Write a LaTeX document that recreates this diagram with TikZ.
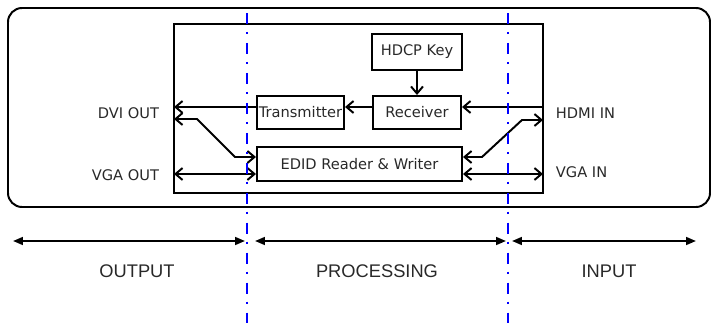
\documentclass[tikz,border=0pt]{standalone}
\usepackage{fontspec}
\setmainfont{DejaVu Sans}
\newfontfamily\arialfont{Liberation Sans}
\usepackage{tikz}
\usepackage{xcolor}
\usetikzlibrary{arrows.meta}

\definecolor{labelgray}{RGB}{40,40,40}

\tikzset{
    block/.style={draw, line width=1.4pt, inner sep=0pt, text=labelgray,
        font=\fontsize{10.4}{12}\selectfont},
    port/.style={text=labelgray, font=\fontsize{10.4}{12}\selectfont},
    zonelabel/.style={text=labelgray, font=\arialfont\fontsize{13}{15}\selectfont},
    sig/.style={line width=1.4pt, -{Straight Barb[length=5pt, width=8.5pt]}},
    duplex/.style={line width=1.4pt,
        {Straight Barb[length=5pt, width=8.5pt]}-{Straight Barb[length=5pt, width=8.5pt]}},
    span/.style={line width=1.4pt,
        {Triangle[length=7pt, width=5.5pt]}-{Triangle[length=7pt, width=5.5pt]}},
    zone/.style={draw=blue, line width=1.5pt,
        dash pattern=on 7.8pt off 5.7pt on 1.4pt off 6.4pt},
}

\begin{document}
\begin{tikzpicture}[x=0.025cm, y=-0.025cm]
                \useasboundingbox (0, 0) rectangle (713, 329);

                % housing and processing board
                \draw[line width=1.4pt, rounded corners=10pt]
                (8, 8) rectangle (710, 207);
                \node[draw, line width=1.4pt, minimum width=9.225cm, minimum height=4.225cm,
                    inner sep=0pt] (board) at (358.5, 108.5) {};

                % blocks
                \node[block, minimum width=2.25cm, minimum height=0.9cm] (hdcp) at (417, 52) {HDCP Key};
                \node[block, minimum width=2.2cm, minimum height=0.825cm] (rx) at (417, 112.5) {Receiver};
                \node[block, minimum width=2.175cm, minimum height=0.825cm] (tx) at (300.5, 112.5) {Transmitter};
                \node[block, minimum width=5.125cm, minimum height=0.85cm] (edid) at (359.5, 164) {EDID Reader \& Writer};

                % ports
                \coordinate (hdmiin) at (543, 107);
                \coordinate (hdmiddc) at (543, 120);
                \coordinate (vgain) at (543, 174);
                \coordinate (dviout) at (174, 107);
                \coordinate (dviddc) at (174, 119);
                \coordinate (vgaout) at (174, 174);

                \node[port, anchor=east] (dvilabel) at (164, 113) {DVI OUT};
                \node[port, anchor=east] (vgaoutlabel) at (164, 175) {VGA OUT};
                \node[port, anchor=west] (hdmilabel) at (551, 113) {HDMI IN};
                \node[port, anchor=west] (vgainlabel) at (551, 172) {VGA IN};

                % signal paths
                \draw[sig] (hdcp) -- (rx);
                \draw[sig] (hdmiin) -- (hdmiin -| rx.east);
                \draw[sig] (rx.west |- hdmiin) -- (tx.east |- hdmiin);
                \draw[sig] (tx.west |- hdmiin) -- (dviout);
                \draw[duplex] (dviddc) -- (197, 119) -- (235, 157) -- (edid.west |- 0, 157);
                \draw[duplex] (vgaout) -- (edid.west |- vgaout);
                \draw[duplex] (edid.east |- 0, 157) -- (482, 157) -- (522, 120) -- (hdmiddc);
                \draw[duplex] (edid.east |- vgain) -- (vgain);

                % zone borders
                \draw[zone] (247, 13) -- (247, 329);
                \draw[zone] (508, 13) -- (508, 329);

                % zones
                \coordinate (outl) at (13, 241);
                \coordinate (outr) at (245, 241);
                \coordinate (procl) at (255, 241);
                \coordinate (procr) at (506, 241);
                \coordinate (inl) at (512, 241);
                \coordinate (inr) at (696, 241);
                \draw[span] (outl) -- (outr);
                \draw[span] (procl) -- (procr);
                \draw[span] (inl) -- (inr);

                \node[zonelabel] (output) at (137, 271) {OUTPUT};
                \node[zonelabel] (processing) at (377, 271) {PROCESSING};
                \node[zonelabel] (input) at (609, 271) {INPUT};
            \end{tikzpicture}
\end{document}
